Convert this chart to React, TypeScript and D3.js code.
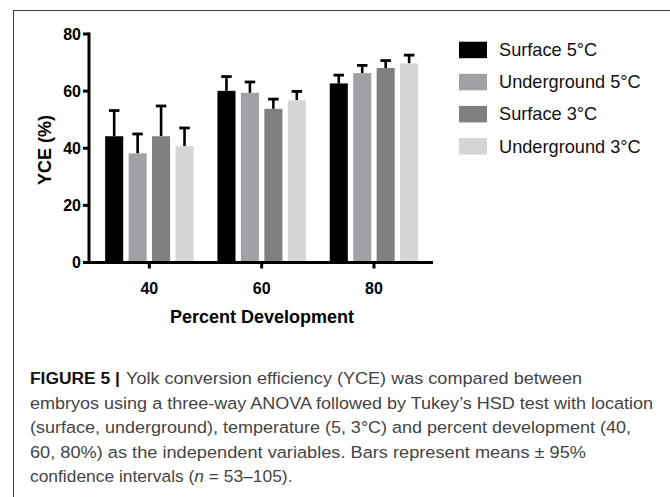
import React from "react";
import * as d3 from "d3";

const categories = ["40", "60", "80"];
const seriesNames = ["Surface 5°C", "Underground 5°C", "Surface 3°C", "Underground 3°C"];
const seriesColors = ["#000000", "#a1a1a5", "#808080", "#d6d6d6"];
const means = [
  [44.2, 60.1, 62.7],
  [38.2, 59.4, 66.3],
  [44.2, 53.8, 68.1],
  [40.7, 56.8, 69.7],
];
const errTops = [
  [53.2, 65.1, 65.6],
  [45.0, 63.2, 69.0],
  [54.8, 57.2, 70.7],
  [47.1, 59.9, 72.6],
];
const yTicks = [0, 20, 40, 60, 80];
const captionBold = "FIGURE 5 |";
const captionLines = [
  "Yolk conversion efficiency (YCE) was compared between",
  "embryos using a three-way ANOVA followed by Tukey’s HSD test with location",
  "(surface, underground), temperature (5, 3°C) and percent development (40,",
  "60, 80%) as the independent variables. Bars represent means ± 95%",
];
const captionLast = ["confidence intervals (", "n", " = 53–105)."];

export default function App() {
  const W = 670, H = 497;
  const font = "'Liberation Sans', Arial, Helvetica, sans-serif";
  const y = d3.scaleLinear().domain([0, 80]).range([262.5, 34]);
  const xAxisLeft = 89, xAxisRight = 433;
  const x0 = d3.scaleBand<string>().domain(categories).range([93.2, 430.1]).padding(0);
  const x1 = d3.scaleBand<string>().domain(seriesNames).range([-44.2, 44.2]).paddingInner(0.23).paddingOuter(0);
  const capW = 10.5;
  const captionEnds = [582, 653, 631, 586];
  const lineY = [384, 408.5, 433, 457.5, 482];
  const capFs = 17.4;
  const line1Start = 126;

  return (
    <svg width={W} height={H} style={{ position: "absolute", left: 0, top: 0 }} fontFamily={font}>
      <rect x={0} y={0} width={W} height={H} fill="#fff" />
      {/* frame */}
      <line x1={13.5} y1={10.5} x2={W} y2={10.5} stroke="#3a3a3a" strokeWidth={1} />
      <line x1={13.5} y1={10.5} x2={13.5} y2={H} stroke="#3a3a3a" strokeWidth={1} />

      {/* bars */}
      {categories.map((c, ci) => {
        const cx = (x0(c) ?? 0) + x0.bandwidth() / 2;
        return seriesNames.map((s, si) => {
          const bx = cx + (x1(s) ?? 0);
          const bw = x1.bandwidth();
          const mid = bx + bw / 2;
          const v = means[si][ci];
          const e = errTops[si][ci];
          return (
            <g key={c + s}>
              <line x1={mid} x2={mid} y1={y(v)} y2={y(e)} stroke="#000" strokeWidth={2.6} />
              <line x1={mid - capW / 2} x2={mid + capW / 2} y1={y(e)} y2={y(e)} stroke="#000" strokeWidth={2.8} />
              <rect x={bx} y={y(v)} width={bw} height={y(0) - y(v)} fill={seriesColors[si]} />
            </g>
          );
        });
      })}

      {/* y axis */}
      <line x1={xAxisLeft} x2={xAxisLeft} y1={y(80) - 1.5} y2={y(0) + 1.5} stroke="#000" strokeWidth={3} />
      {yTicks.map((t) => (
        <g key={t}>
          <line x1={xAxisLeft - 6} x2={xAxisLeft} y1={y(t)} y2={y(t)} stroke="#000" strokeWidth={3} />
          <text x={81} y={y(t)} dy="0.36em" textAnchor="end" fontSize={16} fontWeight="bold" fill="#000">
            {t}
          </text>
        </g>
      ))}
      <text
        transform={`translate(50.5,150) rotate(-90)`}
        textAnchor="middle"
        fontSize={18}
        fontWeight="bold"
        fill="#000"
      >
        YCE (%)
      </text>

      {/* x axis */}
      <line x1={xAxisLeft - 1.5} x2={xAxisRight} y1={y(0)} y2={y(0)} stroke="#000" strokeWidth={3} />
      {categories.map((c) => {
        const cx = (x0(c) ?? 0) + x0.bandwidth() / 2;
        return (
          <g key={c}>
            <line x1={cx} x2={cx} y1={y(0)} y2={y(0) + 6} stroke="#000" strokeWidth={3} />
            <text x={cx} y={294} textAnchor="middle" fontSize={16} fontWeight="bold" fill="#000">
              {c}
            </text>
          </g>
        );
      })}
      <text x={262} y={323} textAnchor="middle" fontSize={18} fontWeight="bold" fill="#000">
        Percent Development
      </text>

      {/* legend */}
      {seriesNames.map((s, i) => (
        <g key={s} transform={`translate(459,${41.7 + i * 32.1})`}>
          <rect x={0} y={0} width={28} height={16.5} fill={seriesColors[i]} />
          <text x={40} y={14.5} fontSize={18.2} fill="#111">
            {s}
          </text>
        </g>
      ))}

      {/* caption */}
      <text x={30} y={lineY[0]} fontSize={capFs} fontWeight="bold" fill="#111">
        {captionBold}
      </text>
      <text x={line1Start} y={lineY[0]} fontSize={capFs} fill="#444" textLength={captionEnds[0] - line1Start} lengthAdjust="spacingAndGlyphs">
        {captionLines[0]}
      </text>
      {captionLines.slice(1).map((l, i) => (
        <text key={i} x={30} y={lineY[i + 1]} fontSize={capFs} fill="#444" textLength={captionEnds[i + 1] - 30} lengthAdjust="spacingAndGlyphs">
          {l}
        </text>
      ))}
      <text x={30} y={lineY[4]} fontSize={capFs} fill="#444">
        {captionLast[0]}
        <tspan fontStyle="italic">{captionLast[1]}</tspan>
        {captionLast[2]}
      </text>
    </svg>
  );
}
